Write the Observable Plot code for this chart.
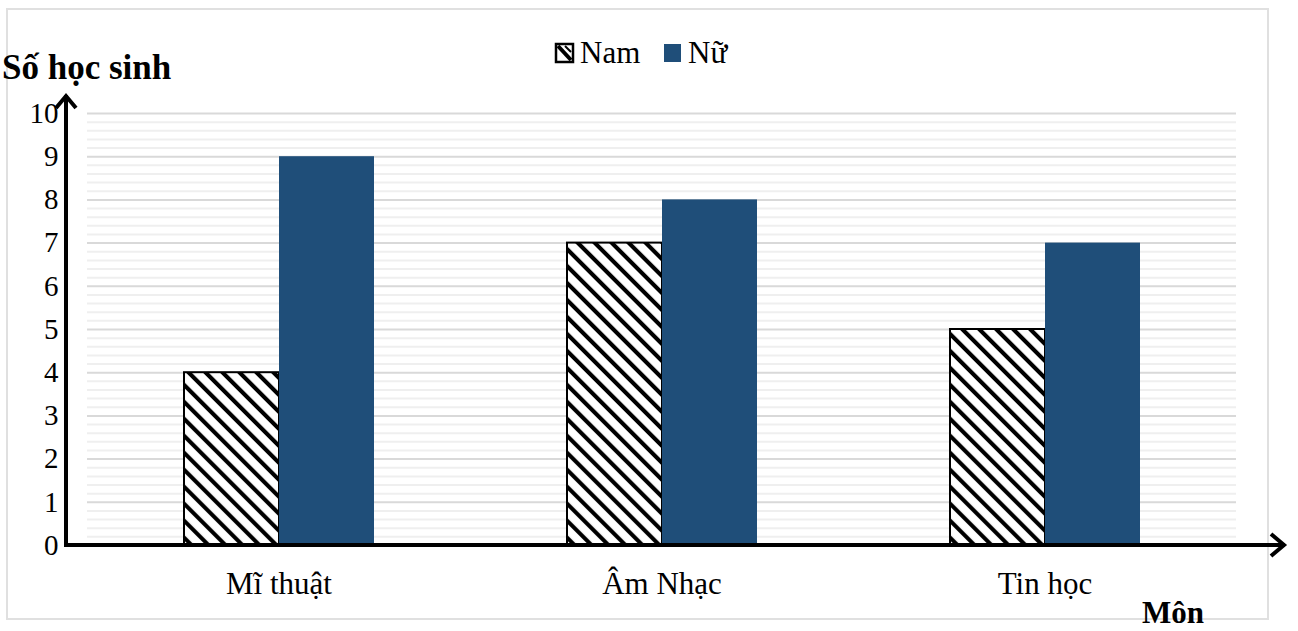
<!DOCTYPE html>
<html>
<head>
<meta charset="utf-8">
<script src="https://cdn.jsdelivr.net/npm/d3@7"></script>
<script src="https://cdn.jsdelivr.net/npm/@observablehq/plot@0.6"></script>
<style>
  html, body { margin: 0; padding: 0; background: #fff; }
  #wrap { position: relative; width: 1298px; height: 631px; overflow: hidden; font-family: "Liberation Serif", "Times New Roman", serif; }
  #frame { position: absolute; left: 6px; top: 8px; width: 1263px; height: 612px; border: 2px solid #e0e0e0; box-sizing: border-box; }
  #chart { position: absolute; left: 0; top: 0; }
  #overlay { position: absolute; left: 0; top: 0; pointer-events: none; }
  #chart svg text { font-family: "Liberation Serif", "Times New Roman", serif; }
</style>
</head>
<body>
<div id="wrap">
  <div id="frame"></div>
  <div id="chart"></div>
  <svg id="overlay" width="1298" height="631"></svg>
</div>
<script>
// ---- data ----
const subjects = ["Mĩ thuật", "Âm Nhạc", "Tin học"];
const genders = ["Nam", "Nữ"];
const namValues = [4, 7, 5];
const nuValues = [9, 8, 7];
const yTicks = [0, 1, 2, 3, 4, 5, 6, 7, 8, 9, 10];
const yTitle = "Số học sinh";
const xTitle = "Môn";

const rows = subjects.flatMap((s, i) => [
  {subject: s, gender: genders[0], value: namValues[i]},
  {subject: s, gender: genders[1], value: nuValues[i]}
]);
const minorTicks = d3.range(0, 50).map(k => k / 5).filter(v => v % 1 !== 0);

const NU_COLOR = "#1f4e79";
const SERIF = "'Liberation Serif', 'Times New Roman', serif";

// decorative mark: hatch pattern defs + arrowed axes, drawn once
class Decor extends Plot.Mark {
  constructor() { super([null], {}, {facet: "super"}, {}); }
  render(index, scales, values, dims, context) {
    const g = d3.create("svg:g");
    const defs = g.append("defs");
    const pat = defs.append("pattern")
      .attr("id", "hatch").attr("patternUnits", "userSpaceOnUse")
      .attr("width", 12).attr("height", 12)
      .attr("patternTransform", "rotate(-45)");
    pat.append("rect").attr("width", 12).attr("height", 12).attr("fill", "#fff");
    pat.append("line").attr("x1", 2).attr("x2", 2).attr("y1", -2).attr("y2", 14)
      .attr("stroke", "#000").attr("stroke-width", 4.2);
    const x0 = dims.marginLeft - 21;
    const y0 = dims.height - dims.marginBottom;
    const yTop = dims.marginTop - 18;
    const xEnd = dims.width - 13;
    const s = g.append("g").attr("stroke", "#000").attr("stroke-width", 4)
      .attr("fill", "none").attr("stroke-linecap", "butt").attr("stroke-linejoin", "miter");
    s.append("path").attr("d", `M${x0},${y0}V${yTop}`);
    s.append("path").attr("d", `M${x0 - 10},${yTop + 13}L${x0},${yTop + 1}L${x0 + 10},${yTop + 13}`);
    s.append("path").attr("d", `M${x0 - 2},${y0}H${xEnd}`);
    s.append("path").attr("d", `M${xEnd - 14},${y0 - 11}L${xEnd - 1},${y0}L${xEnd - 14},${y0 + 11}`);
    return g.node();
  }
}

const chart = Plot.plot({
  width: 1298,
  height: 631,
  marginLeft: 87,
  marginRight: 62,
  marginTop: 113,
  marginBottom: 86,
  style: {fontFamily: SERIF, color: "#000", background: "transparent"},
  fx: {domain: subjects, padding: 0, label: null},
  x: {domain: genders, paddingInner: 0, paddingOuter: 0.995, axis: null},
  y: {domain: [0, 10], axis: null},
  marks: [
    Plot.ruleY(minorTicks, {stroke: "#efefef", strokeWidth: 2}),
    Plot.ruleY(yTicks, {stroke: "#d9d9d9", strokeWidth: 2}),
    Plot.barY(rows.filter(d => d.gender === genders[0]), {
      fx: "subject", x: "gender", y: "value",
      fill: "url(#hatch)", stroke: "#000", strokeWidth: 2, inset: 0
    }),
    Plot.barY(rows.filter(d => d.gender === genders[1]), {
      fx: "subject", x: "gender", y: "value",
      fill: NU_COLOR, inset: 0
    }),
    new Decor(),
    Plot.axisY(yTicks, {anchor: "left", tickSize: 0, tickPadding: 29, fontSize: 29, fontFamily: SERIF, label: null}),
    Plot.axisFx({anchor: "bottom", tickSize: 0, tickPadding: 26, fontSize: 31, fontFamily: SERIF, label: null})
  ]
});
document.getElementById("chart").appendChild(chart);

// titles and legend
const ov = d3.select("#overlay");
ov.append("text").attr("x", 2).attr("y", 79)
  .attr("font-family", SERIF).attr("font-weight", "bold").attr("font-size", 35)
  .text(yTitle);
ov.append("text").attr("x", 1142).attr("y", 623)
  .attr("font-family", SERIF).attr("font-weight", "bold").attr("font-size", 31)
  .text(xTitle);

const leg = ov.append("g").attr("font-family", SERIF).attr("font-size", 31);
const legItems = [
  {label: genders[0], x: 556, fill: "#fff", hatch: true},
  {label: genders[1], x: 664, fill: NU_COLOR, hatch: false}
];
legItems.forEach(it => {
  leg.append("rect").attr("x", it.x).attr("y", 44).attr("width", 17).attr("height", 18)
    .attr("fill", it.fill)
    .attr("stroke", it.hatch ? "#000" : "none").attr("stroke-width", 2.5);
  if (it.hatch) {
    leg.append("path").attr("d", `M${it.x + 2},${46}L${it.x + 15},${60}`)
      .attr("stroke", "#000").attr("stroke-width", 4);
    leg.append("path").attr("d", `M${it.x + 9},${46}L${it.x + 15},${52}`)
      .attr("stroke", "#000").attr("stroke-width", 2);
  }
  leg.append("text").attr("x", it.x + 24).attr("y", 63).text(it.label);
});
</script>
</body>
</html>
